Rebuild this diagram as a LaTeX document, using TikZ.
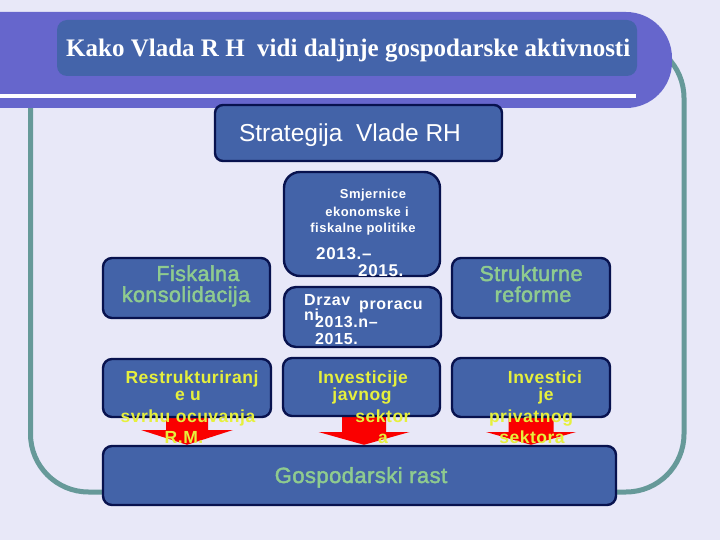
\documentclass[tikz,border=0pt]{standalone}
\usepackage{graphicx}
\usepackage{fontspec}
\setmainfont{Liberation Sans}
\newfontfamily\fTitle{Liberation Serif}
\newfontfamily\fReg{Liberation Sans}[LetterSpace=2,FakeBold=2]
\newfontfamily\fBold{Liberation Sans}[LetterSpace=3]
\newfontfamily\fBoldW{Liberation Sans}[LetterSpace=4]
\usetikzlibrary{calc}
\definecolor{bgc}{RGB}{232,232,248}
\definecolor{bandc}{RGB}{102,102,204}
\definecolor{titlec}{RGB}{68,100,170}
\definecolor{boxc}{RGB}{67,99,168}
\definecolor{navyc}{RGB}{8,18,78}
\definecolor{framec}{RGB}{102,153,153}
\definecolor{greenc}{RGB}{143,203,143}
\definecolor{yellowc}{RGB}{230,240,60}
\definecolor{redc}{RGB}{250,0,0}
\tikzset{
  bbox/.style={draw=navyc, line width=2.4pt, fill=boxc, rounded corners=9pt, inner sep=0pt},
  gtxt/.style={text=greenc, inner sep=0pt, anchor=base, font=\fReg\fontsize{21.5}{24}\selectfont},
  ytxt/.style={text=yellowc, inner sep=0pt, anchor=base, font=\fBold\bfseries\fontsize{17.5}{19}\selectfont},
  wtxt/.style={text=white, inner sep=0pt, anchor=base west, font=\fBoldW\bfseries\fontsize{16}{18}\selectfont},
  stxt/.style={text=white, inner sep=0pt, anchor=base, font=\fBoldW\bfseries\fontsize{13}{15}\selectfont},
  arrowfill/.style={fill=redc},
}
\begin{document}
\begin{tikzpicture}[x=1pt,y=-1pt]
\useasboundingbox (0,0) rectangle (720,540);
\clip (0,0) rectangle (720,540);
\fill[bgc] (0,0) rectangle (720,540);
% outer frame
\draw[framec, line width=5pt, rounded corners=58pt] (30.5,40) rectangle (684,492);
% title band
\fill[bandc, rounded corners=46pt] (-60,12) rectangle (672,108);
\draw[white, line width=4pt] (0,96) -- (636,96);
\node[fill=titlec, rounded corners=10pt, minimum width=580, minimum height=56, inner sep=0pt] (tbox) at (347,48) {};
\node[anchor=base west, inner sep=0pt, text=white] (ttl) at (66,57)
  {\resizebox{564pt}{17.5pt}{\fTitle\bfseries Kako Vlada R H~ vidi daljnje gospodarske aktivnosti}};
% strategy box
\node[bbox, rounded corners=8pt, minimum width=287, minimum height=56] (strat) at (358.5,133) {};
\node[text=white, inner sep=0pt, anchor=base, font=\fontsize{24.5}{28}\selectfont] (strattxt) at (350,142) {Strategija\ \ Vlade RH};
% first row
\node[bbox, rounded corners=16pt, minimum width=156, minimum height=104] (smj) at (362,224) {};
\node[bbox, rounded corners=12pt, minimum width=157, minimum height=60] (drz) at (362.5,317) {};
\node[bbox, minimum width=167, minimum height=60] (fisk) at (186.5,288) {};
\node[bbox, minimum width=158, minimum height=60] (struk) at (531,288) {};
% growth box
\node[bbox, minimum width=513, minimum height=59] (gosp) at (359.5,475.5) {};
% arrows
\coordinate (a1) at (187,417);
\coordinate (a2) at (364,416);
\coordinate (a3) at (531,417);
\fill[arrowfill] ($(a1)+(-21,-10)$) -- ($(a1)+(21,-10)$) -- ($(a1)+(21,13)$) -- ($(a1)+(46,13)$)
  -- (a1 |- gosp.north) -- ($(a1)+(-46,13)$) -- ($(a1)+(-21,13)$) -- cycle;
\fill[arrowfill] ($(a2)+(-22,-10)$) -- ($(a2)+(22,-10)$) -- ($(a2)+(22,16)$) -- ($(a2)+(45.5,16)$)
  -- (a2 |- gosp.north) -- ($(a2)+(-45.5,16)$) -- ($(a2)+(-22,16)$) -- cycle;
\fill[arrowfill] ($(a3)+(-22.5,-10)$) -- ($(a3)+(22.5,-10)$) -- ($(a3)+(22.5,15)$) -- ($(a3)+(45,15)$)
  -- (a3 |- gosp.north) -- ($(a3)+(-45,15)$) -- ($(a3)+(-22.5,15)$) -- cycle;
% second row
\node[bbox, minimum width=168, minimum height=58] (restr) at (187,388) {};
\node[bbox, minimum width=157, minimum height=58] (invj) at (361.5,387) {};
\node[bbox, minimum width=158, minimum height=59] (invp) at (531,387.5) {};
% texts: Smjernice
\node[stxt] (s1) at (373,199) {Smjernice};
\node[stxt] (s2) at (367,216) {ekonomske i};
\node[stxt] (s3) at (363,233) {fiskalne politike};
\node[wtxt, font=\fBoldW\bfseries\fontsize{17}{19}\selectfont] (s4) at (316,259) {2013.–};
\node[wtxt, font=\fBoldW\bfseries\fontsize{17}{19}\selectfont] (s5) at (358,276) {2015.};
% texts: Drzavni proracun
\node[wtxt] (d1) at (304,305) {Drzav};
\node[wtxt] (d2) at (359,309) {proracu};
\node[wtxt] (d3) at (304,320) {ni};
\node[wtxt] (d4) at (315,327) {2013.n–};
\node[wtxt] (d5) at (315,344) {2015.};
% green texts
\node[gtxt] (f1) at (198,281) {Fiskalna};
\node[gtxt] (f2) at (186,302) {konsolidacija};
\node[gtxt] (k1) at (531,281) {Strukturne};
\node[gtxt] (k2) at (533,302) {reforme};
\node[gtxt, font=\fReg\fontsize{22}{24}\selectfont] (g1) at (361,483) {Gospodarski rast};
% yellow texts
\node[ytxt] (r1) at (192,383) {Restrukturiranj};
\node[ytxt] (r2) at (188,400) {e u};
\node[ytxt] (r3) at (188,422) {svrhu ocuvanja};
\node[ytxt] (r4) at (184,443) {R.M.};
\node[ytxt] (j1) at (363,383) {Investicije};
\node[ytxt] (j2) at (362,400) {javnog};
\node[ytxt] (j3) at (383,422) {sektor};
\node[ytxt] (j4) at (383,443) {a};
\node[ytxt] (p1) at (545,383) {Investici};
\node[ytxt] (p2) at (546,400) {je};
\node[ytxt] (p3) at (531,422) {privatnog};
\node[ytxt] (p4) at (532,443) {sektora};
\end{tikzpicture}
\end{document}
